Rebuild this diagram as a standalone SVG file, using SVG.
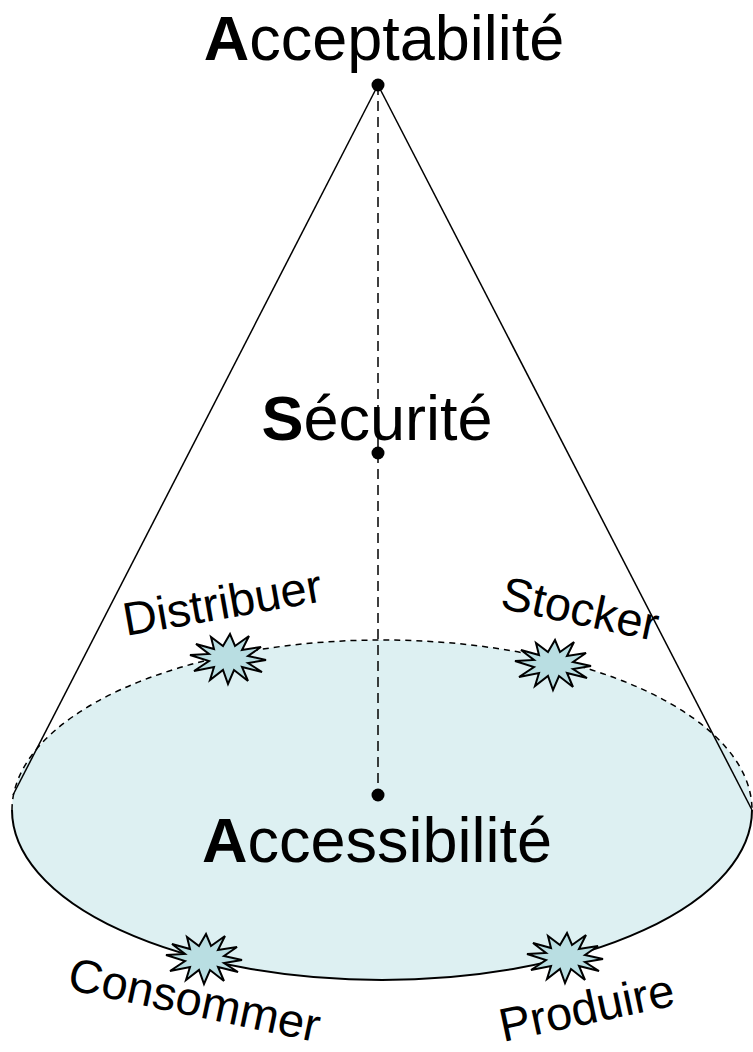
<svg xmlns="http://www.w3.org/2000/svg" width="753" height="1052" viewBox="0 0 753 1052">
<style>
.big{font-family:"Liberation Sans",Arial,sans-serif;font-size:63px;fill:#000}
.lbl{font-family:"Liberation Sans",Arial,sans-serif;font-size:47px;fill:#000}
.star{fill:#B9DEE2;stroke:#000;stroke-width:2;stroke-linejoin:miter}
.dot{fill:#000}
</style>
<defs>
<polygon id="burst" class="star" points="38,2 20,5 34,14 14,9 20,23 6,12 0,26 -5,12 -18,22 -14,9 -34,13 -19,3 -38,-3 -19,-4 -32,-14 -14,-9 -17,-21 -5,-12 2,-24 7,-12 21,-22 14,-8 33,-11 20,-2"/>
</defs>
<g id="base">
<ellipse cx="382" cy="810" rx="370" ry="170" fill="#DDF0F2" stroke="none"/>
<path d="M12,810 A370,170 0 0 1 752,810" fill="none" stroke="#000" stroke-width="1.5" stroke-dasharray="6,5"/>
<path d="M12,810 A370,170 0 0 0 752,810" fill="none" stroke="#000" stroke-width="2"/>
</g>
<g id="connectors">
<line x1="378" y1="85" x2="13" y2="795" stroke="#000" stroke-width="1.5"/>
<line x1="378" y1="85" x2="752" y2="810" stroke="#000" stroke-width="1.5"/>
<line x1="378" y1="85" x2="378" y2="795" stroke="#000" stroke-width="1.5" stroke-dasharray="10,6"/>
</g>
<g id="acceptabilite">
<circle class="dot" cx="378" cy="85" r="6.5"/>
<text class="big" x="384" y="60" text-anchor="middle"><tspan font-weight="bold">A</tspan>cceptabilité</text>
</g>
<g id="securite">
<circle class="dot" cx="378" cy="453" r="6.5"/>
<text class="big" x="377" y="440" text-anchor="middle"><tspan font-weight="bold">S</tspan>écurité</text>
</g>
<g id="accessibilite">
<circle class="dot" cx="378" cy="795" r="6.5"/>
<text class="big" x="377" y="862" text-anchor="middle"><tspan font-weight="bold">A</tspan>ccessibilité</text>
</g>
<g id="distribuer">
<use href="#burst" transform="translate(228,658)"/>
<text class="lbl" transform="translate(126,636) rotate(-10)">Distribuer</text>
</g>
<g id="stocker">
<use href="#burst" transform="translate(553,664)"/>
<text class="lbl" transform="translate(499,608) rotate(12)">Stocker</text>
</g>
<g id="consommer">
<use href="#burst" transform="translate(204,958)"/>
<text class="lbl" transform="translate(66,989) rotate(12)">Consommer</text>
</g>
<g id="produire">
<use href="#burst" transform="translate(565,957)"/>
<text class="lbl" transform="translate(503,1042) rotate(-12)">Produire</text>
</g>
</svg>
